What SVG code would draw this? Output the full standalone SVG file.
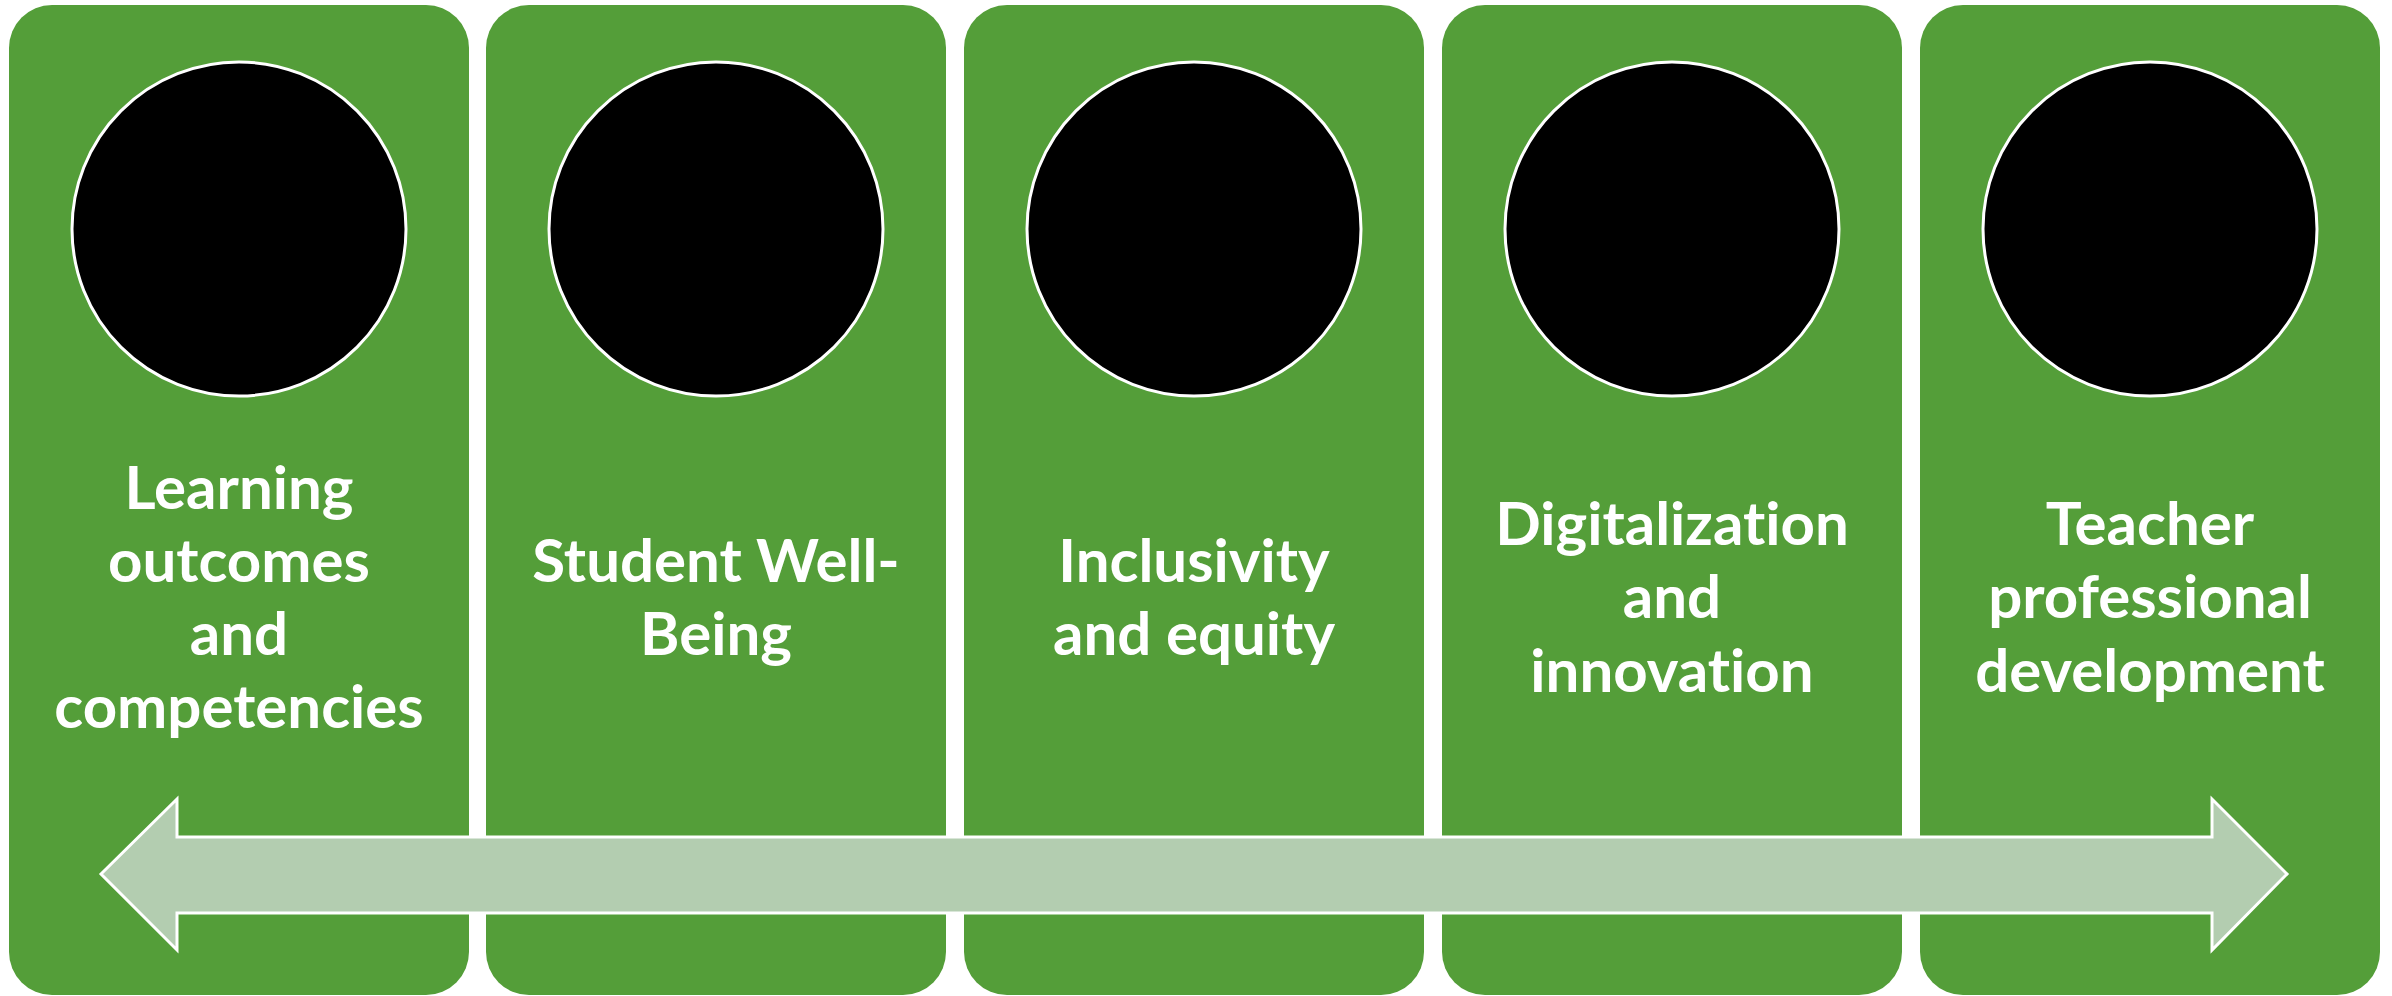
<svg xmlns="http://www.w3.org/2000/svg" width="2392" height="996" viewBox="0 0 2392 996">
<style>
.box{fill:#549E39;}
.dot{fill:#000000;stroke:#FFFFFF;stroke-width:3;}
.lbl{font-family:Lato,"Open Sans","Liberation Sans",sans-serif;font-weight:bold;font-size:60px;fill:#FFFFFF;text-anchor:middle;font-variant-ligatures:none;font-feature-settings:"liga" 0,"dlig" 0;}
.arrow{fill:#B3CDB0;stroke:#FFFFFF;stroke-width:3;stroke-linejoin:miter;}
</style>
<rect width="2392" height="996" fill="#FFFFFF"/>
<g id="node1">
<rect class="box" x="9" y="5" width="460" height="990" rx="43" ry="43"/>
<circle class="dot" cx="239" cy="229" r="167"/>
<text class="lbl" x="239" y="509">Learning</text>
<text class="lbl" x="239" y="582">outcomes</text>
<text class="lbl" x="239" y="655">and</text>
<text class="lbl" x="239" y="728">competencies</text>
</g>
<g id="node2">
<rect class="box" x="486" y="5" width="460" height="990" rx="43" ry="43"/>
<circle class="dot" cx="716" cy="229" r="167"/>
<text class="lbl" x="716" y="582">Student Well-</text>
<text class="lbl" x="716" y="655">Being</text>
</g>
<g id="node3">
<rect class="box" x="964" y="5" width="460" height="990" rx="43" ry="43"/>
<circle class="dot" cx="1194" cy="229" r="167"/>
<text class="lbl" x="1194" y="582">Inclusivity</text>
<text class="lbl" x="1194" y="655">and equity</text>
</g>
<g id="node4">
<rect class="box" x="1442" y="5" width="460" height="990" rx="43" ry="43"/>
<circle class="dot" cx="1672" cy="229" r="167"/>
<text class="lbl" x="1672" y="545">Digitalization</text>
<text class="lbl" x="1672" y="618">and</text>
<text class="lbl" x="1672" y="692">innovation</text>
</g>
<g id="node5">
<rect class="box" x="1920" y="5" width="460" height="990" rx="43" ry="43"/>
<circle class="dot" cx="2150" cy="229" r="167"/>
<text class="lbl" x="2150" y="545">Teacher</text>
<text class="lbl" x="2150" y="618">professional</text>
<text class="lbl" x="2150" y="692">development</text>
</g>
<g id="connectors">
<polygon class="arrow" points="101,874 177,799 177,837 2212,837 2212,799 2287,874 2212,950 2212,913 177,913 177,950"/>
</g>
</svg>
